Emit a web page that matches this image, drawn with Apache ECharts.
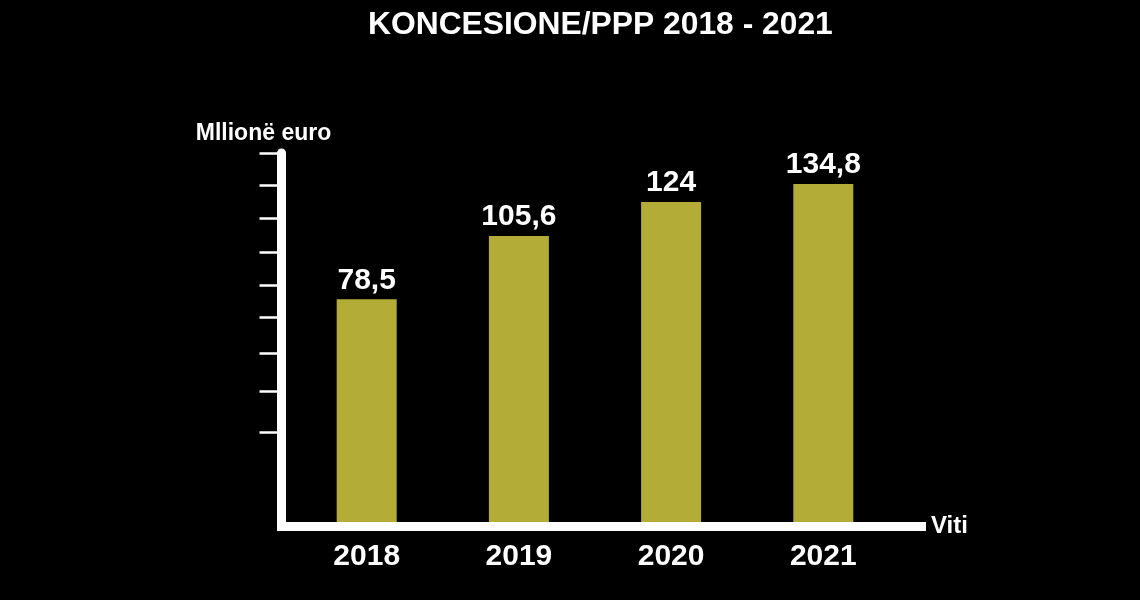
<!DOCTYPE html>
<html>
<head>
<meta charset="utf-8">
<title>KONCESIONE/PPP 2018 - 2021</title>
<script src="https://cdn.jsdelivr.net/npm/echarts@6/dist/echarts.min.js"></script>
<style>
  html, body { margin: 0; padding: 0; background: #000; }
  #main { width: 1140px; height: 600px; }
</style>
</head>
<body>
<div id="main"></div>
<script>
const years = ["2018", "2019", "2020", "2021"]
const values = [78.5, 105.6, 124, 134.8]
// decorative ticks on the left axis (value scale of the picture)
const tickValues = [42, 51, 61, 72, 84, 98, 115, 134, 156]
const axisMin = 27
const axisMax = 156

const font = "'Liberation Sans', Arial, sans-serif"
const white = "#ffffff"

const chart = echarts.init(document.getElementById("main"))

const option = {
  backgroundColor: "#000000",
  animation: false,
  title: {
    text: "KONCESIONE/PPP 2018 - 2021",
    // title sits right of the canvas centre in the original
    left: 368,
    top: 9,
    padding: 0,
    textStyle: { color: white, fontFamily: font, fontWeight: "bold", fontSize: 31.8 },
  },
  grid: [
    // bars
    { left: 290.6, right: 240.6, top: 153, bottom: 73.5 },
    // axis frame
    { left: 281.5, right: 218.5, top: 153, bottom: 73.5 },
  ],
  xAxis: [
    {
      type: "category",
      gridIndex: 0,
      data: years,
      axisLine: { show: false },
      axisTick: { show: false },
      axisLabel: {
        color: white,
        fontFamily: font,
        fontWeight: "bold",
        fontSize: 30,
        margin: 15,
      },
    },
    {
      type: "category",
      gridIndex: 1,
      data: years,
      z: 10,
      name: "Viti",
      nameLocation: "end",
      nameGap: 9.5,
      nameTextStyle: {
        color: white,
        fontFamily: font,
        fontWeight: "bold",
        fontSize: 24,
        padding: [0, 0, 9, 0],
      },
      axisLine: { show: true, lineStyle: { color: white, width: 9, cap: "square" } },
      axisTick: { show: false },
      axisLabel: { show: false },
    },
  ],
  yAxis: [
    {
      type: "log",
      gridIndex: 0,
      min: axisMin,
      max: axisMax,
      show: false,
    },
    {
      type: "log",
      gridIndex: 1,
      min: axisMin,
      max: axisMax,
      z: 10,
      name: "Mllionë euro",
      nameLocation: "end",
      nameGap: 8,
      nameTextStyle: {
        color: white,
        fontFamily: font,
        fontWeight: "bold",
        fontSize: 23,
        padding: [0, 36, 0, 0],
      },
      axisLine: { show: true, lineStyle: { color: white, width: 9 } },
      axisTick: {
        show: true,
        customValues: tickValues,
        length: 22,
        lineStyle: { color: white, width: 2.5 },
      },
      axisLabel: { show: false },
      splitLine: { show: false },
    },
  ],
  series: [
    {
      type: "bar",
      xAxisIndex: 0,
      yAxisIndex: 0,
      data: values,
      barWidth: 60,
      clip: true,
      itemStyle: { color: "#b3ad37" },
      label: {
        show: true,
        position: "top",
        distance: 4,
        color: white,
        fontFamily: font,
        fontWeight: "bold",
        fontSize: 30,
        formatter: p => String(p.value).replace(".", ","),
      },
    },
  ],
}

chart.setOption(option)
window.addEventListener("resize", chart.resize)
</script>
</body>
</html>
